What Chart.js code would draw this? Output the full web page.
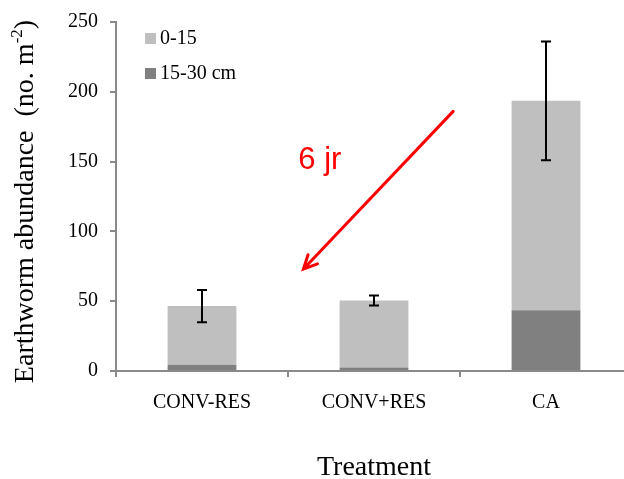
<!DOCTYPE html>
<html>
<head>
<meta charset="utf-8">
<script src="https://cdn.jsdelivr.net/npm/chart.js@4/dist/chart.umd.min.js"></script>
<style>
  html, body { margin: 0; padding: 0; background: #fff; overflow: hidden; }
  #wrap { width: 624px; height: 479px; overflow: hidden; position: relative; }
  #c { display: block; }
</style>
</head>
<body>
<div id="wrap"><canvas id="c" width="640" height="479"></canvas></div>
<script>
const categories = ['CONV-RES', 'CONV+RES', 'CA'];
const depth15to30 = [4.5, 2.5, 43.5];
const depth0to15 = [42, 48, 150];
const errors = [11.5, 3.5, 42.5];
const yTicks = [0, 50, 100, 150, 200, 250];
const seriesLabels = ['15-30 cm', '0-15'];
const yTitleParts = ['Earthworm abundance  (no. m', '-2', ')'];
const note = { text: '6 jr', x: 0.56, y: 151, arrowFrom: [1.46, 186], arrowTo: [0.59, 73] };

const serif = '"Liberation Serif", "Times New Roman", serif';
const axisGray = '#8a8a8a';

const errorBarPlugin = {
  id: 'errorBars',
  afterDatasetsDraw(chart) {
    const ctx = chart.ctx, xs = chart.scales.x, ys = chart.scales.y;
    ctx.save();
    ctx.strokeStyle = '#000';
    ctx.lineWidth = 2;
    categories.forEach((c, i) => {
      const total = depth15to30[i] + depth0to15[i];
      const x = xs.getPixelForValue(i);
      const yT = ys.getPixelForValue(total + errors[i]);
      const yB = ys.getPixelForValue(total - errors[i]);
      ctx.beginPath();
      ctx.moveTo(x, yT); ctx.lineTo(x, yB);
      ctx.moveTo(x - 5, yT); ctx.lineTo(x + 5, yT);
      ctx.moveTo(x - 5, yB); ctx.lineTo(x + 5, yB);
      ctx.stroke();
    });
    ctx.restore();
  }
};

const legendPlugin = {
  id: 'insideLegend',
  afterDraw(chart) {
    const ctx = chart.ctx, a = chart.chartArea;
    const ds = chart.data.datasets.slice().reverse();
    ctx.save();
    ctx.font = '20px ' + serif;
    ctx.textBaseline = 'middle';
    ds.forEach((d, k) => {
      const cy = a.top + 16 + k * 35;
      ctx.fillStyle = d.backgroundColor;
      ctx.fillRect(a.left + 29, cy - 5, 11, 11);
      ctx.fillStyle = '#000';
      ctx.fillText(d.label, a.left + 44, cy + 1);
    });
    ctx.restore();
  }
};

const yTitlePlugin = {
  id: 'yTitle',
  afterDraw(chart) {
    const ctx = chart.ctx, a = chart.chartArea;
    const big = '28px ' + serif, small = '17px ' + serif;
    ctx.save();
    ctx.font = big;
    const w0 = ctx.measureText(yTitleParts[0]).width;
    const w2 = ctx.measureText(yTitleParts[2]).width;
    ctx.font = small;
    const w1 = ctx.measureText(yTitleParts[1]).width;
    const total = w0 + w1 + w2;
    const cy = (a.top + a.bottom) / 2 + 5;
    ctx.translate(33, cy);
    ctx.rotate(-Math.PI / 2);
    ctx.fillStyle = '#000';
    ctx.textBaseline = 'alphabetic';
    let x = -total / 2;
    ctx.font = big;
    ctx.fillText(yTitleParts[0], x, 0);
    x += w0;
    ctx.font = small;
    ctx.fillText(yTitleParts[1], x, -11);
    x += w1;
    ctx.font = big;
    ctx.fillText(yTitleParts[2], x, 0);
    ctx.restore();
  }
};

const notePlugin = {
  id: 'note',
  afterDraw(chart) {
    const ctx = chart.ctx, xs = chart.scales.x, ys = chart.scales.y;
    ctx.save();
    ctx.fillStyle = '#ff0000';
    ctx.font = '31px "Liberation Sans", Arial, sans-serif';
    ctx.textBaseline = 'middle';
    ctx.fillText(note.text, xs.getPixelForValue(note.x), ys.getPixelForValue(note.y));
    const x1 = xs.getPixelForValue(note.arrowFrom[0]), y1 = ys.getPixelForValue(note.arrowFrom[1]);
    const x2 = xs.getPixelForValue(note.arrowTo[0]), y2 = ys.getPixelForValue(note.arrowTo[1]);
    ctx.strokeStyle = '#ff0000';
    ctx.lineWidth = 3;
    ctx.lineCap = 'round';
    ctx.beginPath();
    ctx.moveTo(x1, y1); ctx.lineTo(x2, y2);
    const ang = Math.atan2(y2 - y1, x2 - x1);
    const L = 15, spread = 0.45;
    ctx.moveTo(x2 - L * Math.cos(ang - spread), y2 - L * Math.sin(ang - spread));
    ctx.lineTo(x2, y2);
    ctx.lineTo(x2 - L * Math.cos(ang + spread), y2 - L * Math.sin(ang + spread));
    ctx.stroke();
    ctx.restore();
  }
};

new Chart(document.getElementById('c'), {
  type: 'bar',
  data: {
    labels: categories,
    datasets: [
      { label: seriesLabels[0], data: depth15to30, backgroundColor: '#808080', borderWidth: 0 },
      { label: seriesLabels[1], data: depth0to15, backgroundColor: '#bfbfbf', borderWidth: 0 }
    ]
  },
  options: {
    responsive: false,
    animation: false,
    layout: { padding: { top: 19, right: 8, left: 0, bottom: 0 } },
    datasets: { bar: { categoryPercentage: 1.0, barPercentage: 0.4 } },
    plugins: { legend: { display: false }, tooltip: { enabled: false } },
    scales: {
      x: {
        stacked: true,
        afterFit(s) { s.height = 108; },
        grid: { drawOnChartArea: false, drawTicks: true, tickLength: 6, color: axisGray, lineWidth: 2, offset: true },
        border: { display: true, color: axisGray, width: 2 },
        ticks: { color: '#000', padding: 16, font: { family: serif, size: 20, lineHeight: 1 } },
        title: { display: true, text: 'Treatment', color: '#000', font: { family: serif, size: 28, lineHeight: 1 }, padding: { top: 0, bottom: -3 } }
      },
      y: {
        stacked: true,
        min: 0, max: 250,
        afterFit(s) { s.width = 116; },
        afterBuildTicks(s) { s.ticks = yTicks.map(v => ({ value: v })); },
        grid: { drawOnChartArea: false, drawTicks: true, tickLength: 6, color: axisGray, lineWidth: 2 },
        border: { display: true, color: axisGray, width: 2 },
        ticks: { color: '#000', padding: 12, font: { family: serif, size: 20, lineHeight: 1 } },
        title: { display: false }
      }
    }
  },
  plugins: [errorBarPlugin, legendPlugin, yTitlePlugin, notePlugin]
});
</script>
</body>
</html>
